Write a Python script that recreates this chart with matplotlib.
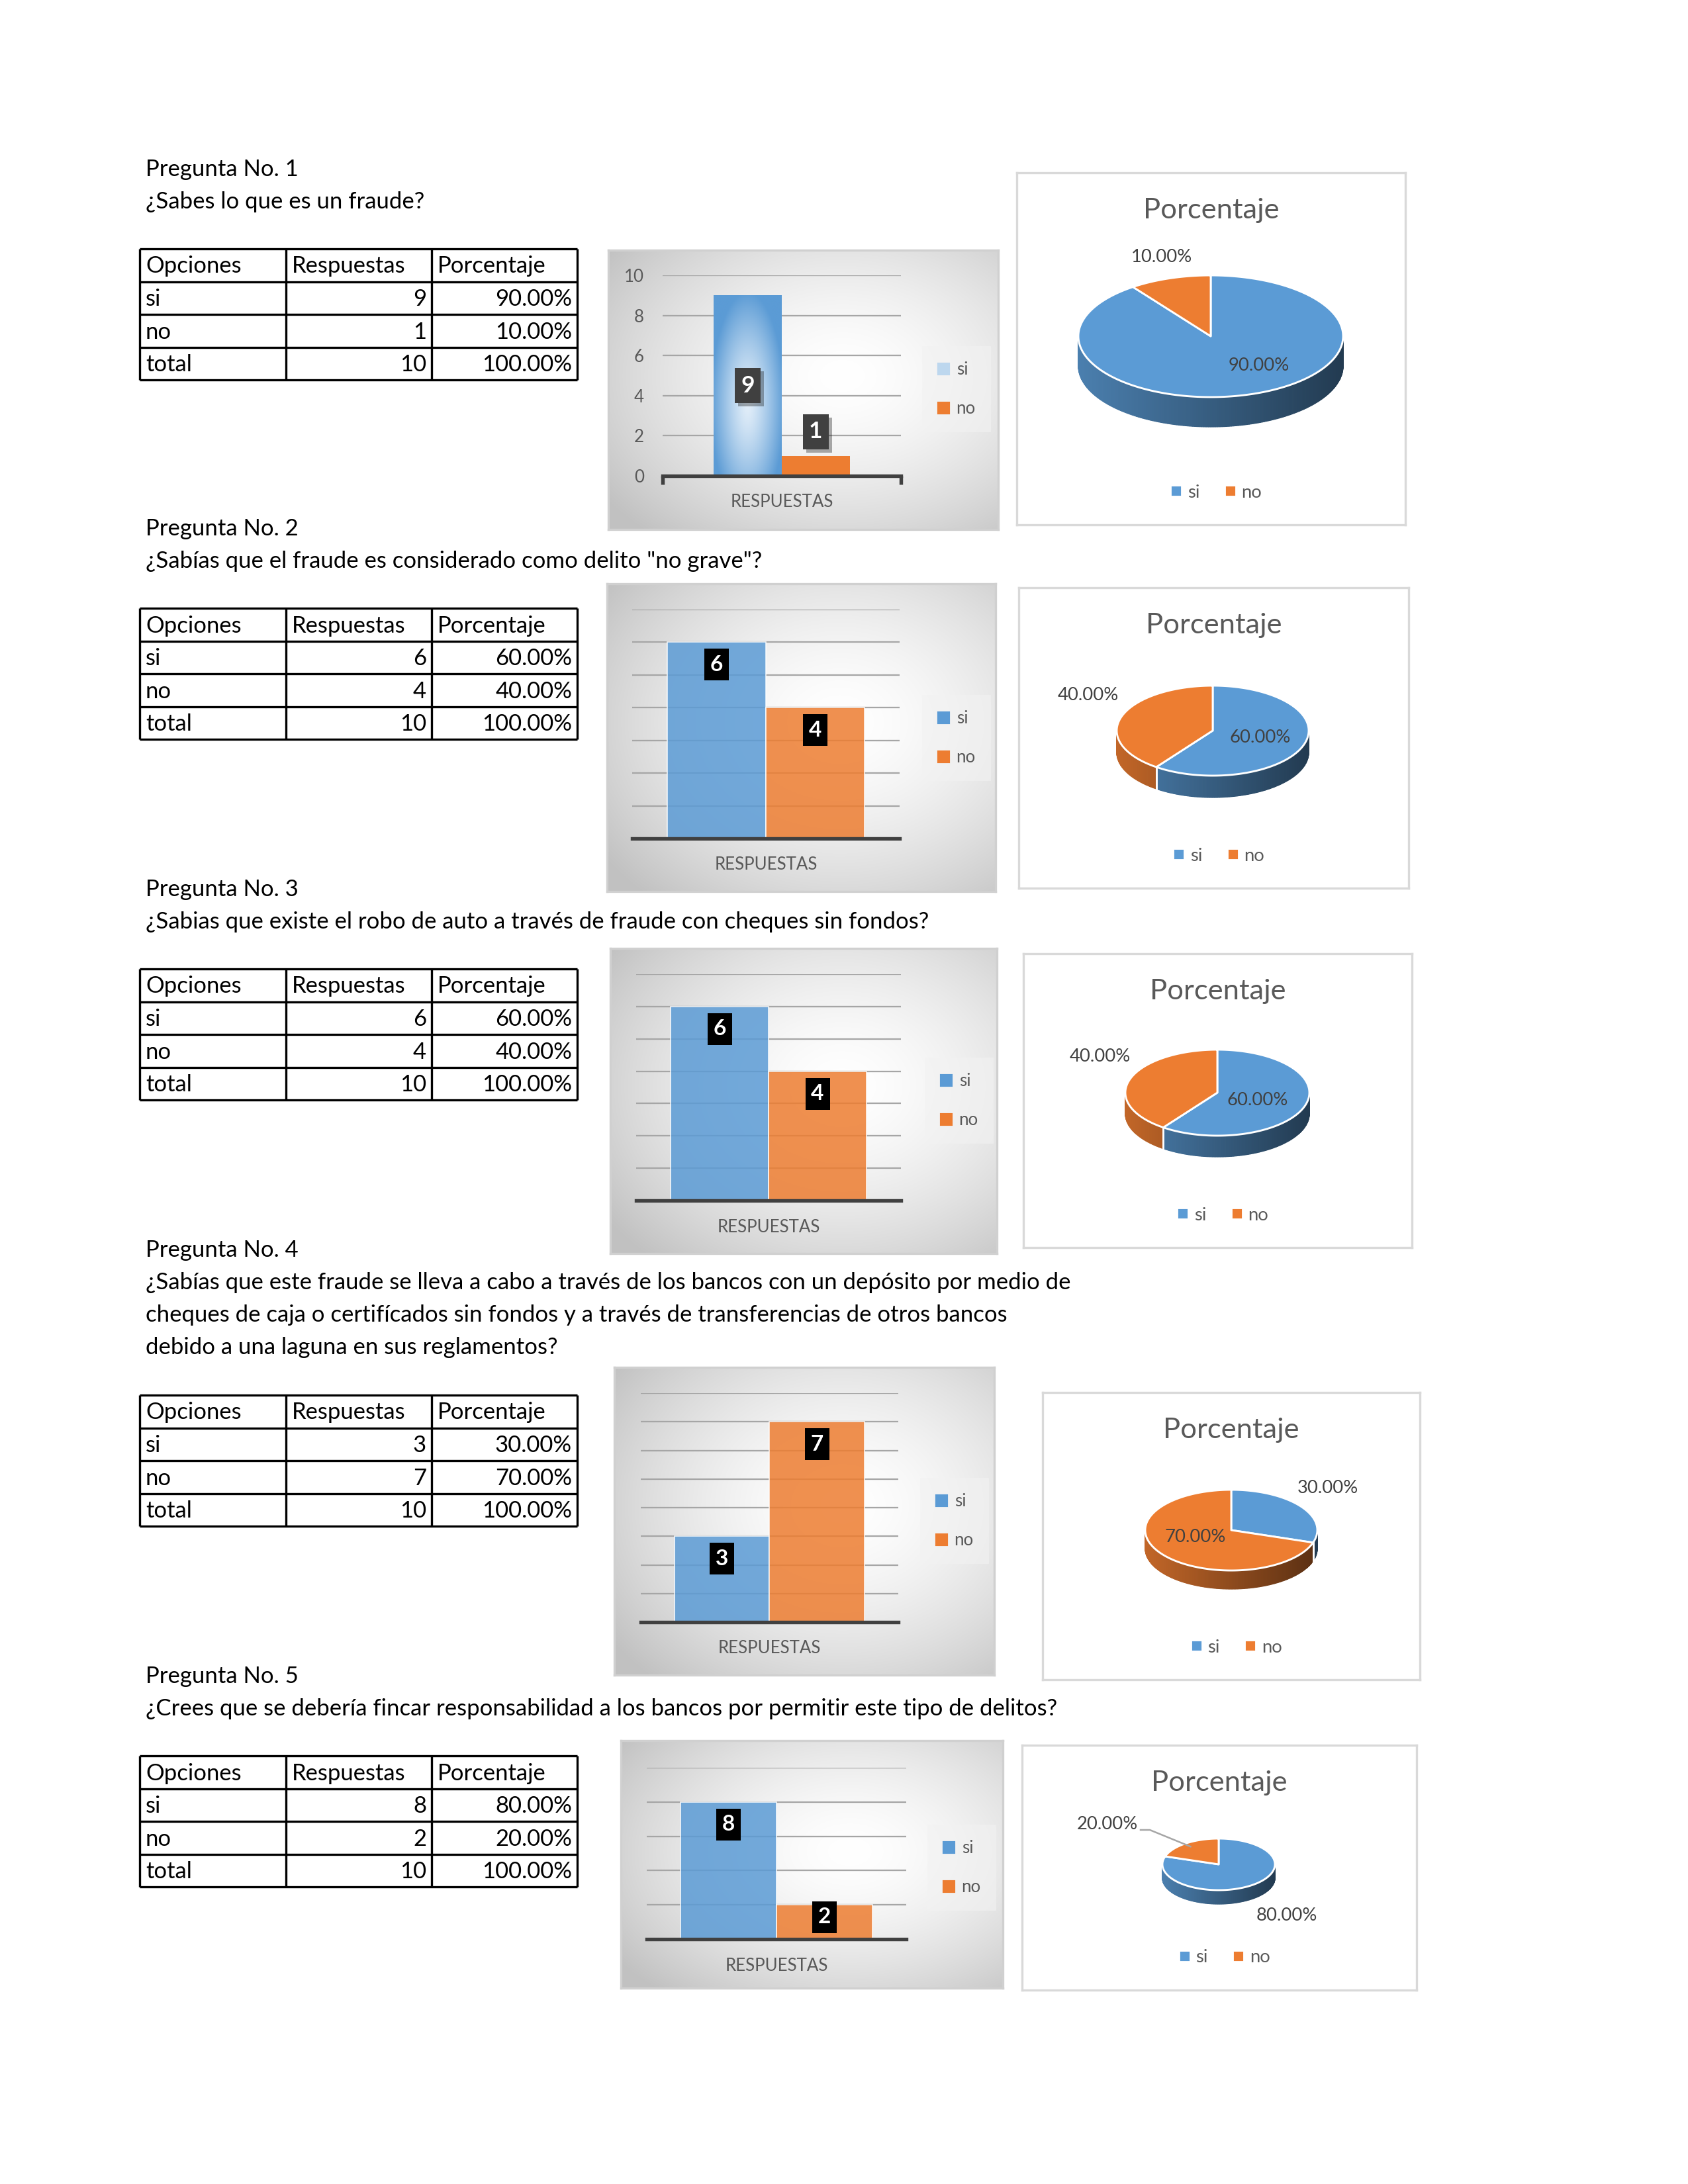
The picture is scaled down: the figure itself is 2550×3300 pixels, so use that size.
import matplotlib

matplotlib.use('Agg')
import matplotlib.pyplot as plt
import matplotlib.patheffects as pe
from matplotlib.colors import to_rgb
from matplotlib.lines import Line2D
from matplotlib.patches import Polygon, Rectangle
import numpy as np

plt.rcParams['font.family'] = ['Lato', 'DejaVu Sans']

# ---- values ----
opciones = ['si', 'no']
encabezados = ['Opciones', 'Respuestas', 'Porcentaje']
preguntas = ['Pregunta No. 1', 'Pregunta No. 2', 'Pregunta No. 3',
             'Pregunta No. 4', 'Pregunta No. 5']
enunciados = [
    ['¿Sabes lo que es un fraude?'],
    ['¿Sabías que el fraude es considerado como delito "no grave"?'],
    ['¿Sabias que existe el robo de auto a través de fraude con cheques sin fondos?'],
    ['¿Sabías que este fraude se lleva a cabo a través de los bancos con un depósito por medio de',
     'cheques de caja o certifícados sin fondos y a través de transferencias de otros bancos',
     'debido a una laguna en sus reglamentos?'],
    ['¿Crees que se debería fincar responsabilidad a los bancos por permitir este tipo de delitos?'],
]
respuestas = [[9, 1], [6, 4], [6, 4], [3, 7], [8, 2]]
porcentajes = [[90.0, 10.0], [60.0, 40.0], [60.0, 40.0], [30.0, 70.0], [80.0, 20.0]]
total_resp = [10, 10, 10, 10, 10]
total_pct = [100.0, 100.0, 100.0, 100.0, 100.0]
eje_max = [10, 7, 7, 8, 10]
eje_paso = [2, 1, 1, 1, 2]
categoria = 'RESPUESTAS'
titulo_pie = 'Porcentaje'

# ---- page layout (pixels on a 2550x3300 page) ----
W, H = 2550, 3300
TEXT_X = 220
HEAD_Y = [266, 809, 1354, 1899, 2543]
LINE_GAP = 49
TABLE_TOP = [376, 919, 1464, 2108, 2653]
TABLE_COLS = [211, 432, 652, 872]
ROW_H = 49.5
BAR_BOX = [(919, 378, 1508, 800), (917, 882, 1504, 1347), (922, 1433, 1506, 1894),
           (928, 2066, 1502, 2531), (938, 2630, 1515, 3004)]
BAR_AREA = [(1001, 1361, 416, 719), (955, 1359, 921, 1267), (961, 1361, 1472, 1814),
            (968, 1357, 2105, 2451), (977, 1369, 2671, 2930)]
BAR_W = [0.285, 0.37, 0.37, 0.37, 0.37]
BAR_LEG = [(1445, 588), (1445, 1115), (1449, 1663), (1442, 2298), (1453, 2822)]
PIE_BOX = [(1536, 261, 2123, 793), (1539, 888, 2128, 1342), (1546, 1441, 2133, 1885),
           (1575, 2104, 2145, 2538), (1544, 2637, 2140, 3007)]
PIE_GEOM = [(1829, 508, 200, 92, 45), (1832, 1104, 145, 68, 33), (1839, 1651, 139, 65, 32),
            (1860, 2312, 130, 61, 28), (1841, 2817, 85, 39, 21)]
PIE_LABEL_OFF = [[(73, 45), (-74, -119)], [(72, 11), (-188, -53)], [(61, 11), (-177, -54)],
                 [(146, -64), (-54, 10)], [(103, 78), (-168, -60)]]
PIE_LEADER = [False, False, False, False, True]

BLUE = '#5B9BD5'
ORANGE = '#ED7D31'
COLORS = [BLUE, ORANGE]
GREY_TXT = '#595959'

fig = plt.figure(figsize=(8.5, 11), dpi=300)
fig.patch.set_facecolor('white')
renderer = fig.canvas.get_renderer()


def fit_size(s, target, **kw):
    t = fig.text(0, 0, s, fontsize=10, **kw)
    w = t.get_window_extent(renderer).width
    t.remove()
    return 10 * target / w


def px_axes(x0, y0, x1, y1):
    return fig.add_axes([x0 / W, 1 - y1 / H, (x1 - x0) / W, (y1 - y0) / H])


body_size = fit_size(enunciados[3][0], 1395)
table_size = fit_size('Porcentaje', 163)
cat_size = fit_size(categoria, 155)
title_size = fit_size(titulo_pie, 205)
pct_size = fit_size('40.00%', 92)

# ---- question texts ----
for i in range(5):
    fig.text(TEXT_X / W, 1 - HEAD_Y[i] / H, preguntas[i], fontsize=body_size, va='baseline')
    for j, line in enumerate(enunciados[i]):
        fig.text(TEXT_X / W, 1 - (HEAD_Y[i] + LINE_GAP * (j + 1)) / H, line,
                 fontsize=body_size, va='baseline')

# ---- tables ----
for i in range(5):
    top = TABLE_TOP[i]
    bottom = top + 4 * ROW_H
    ax = px_axes(TABLE_COLS[0], top, TABLE_COLS[-1], bottom)
    ax.set_xlim(TABLE_COLS[0], TABLE_COLS[-1])
    ax.set_ylim(bottom, top)
    ax.axis('off')
    ys = top + ROW_H * np.arange(5)
    ax.hlines(ys, TABLE_COLS[0], TABLE_COLS[-1], color='black', lw=0.8, clip_on=False)
    ax.vlines(TABLE_COLS, top, bottom, color='black', lw=0.8, clip_on=False)
    rows = [encabezados]
    for k in range(2):
        rows.append([opciones[k], str(respuestas[i][k]), f'{porcentajes[i][k]:.2f}%'])
    rows.append(['total', str(total_resp[i]), f'{total_pct[i]:.2f}%'])
    for r, row in enumerate(rows):
        for c, s in enumerate(row):
            if r > 0 and c > 0:
                ax.text(TABLE_COLS[c + 1] - 8, ys[r + 1] - 13, s, ha='right', va='baseline',
                        fontsize=table_size)
            else:
                ax.text(TABLE_COLS[c] + 9, ys[r + 1] - 13, s, ha='left', va='baseline',
                        fontsize=table_size)

# ---- bar charts ----
gy, gx = np.mgrid[0:1:200j, 0:1:200j]
dist = np.sqrt(((gx - 0.6) / 0.75) ** 2 + ((gy - 0.45) / 0.75) ** 2)
fade = np.clip(dist, 0, 1) ** 1.6
background = 1 - fade[..., None] * (1 - np.array([0.76, 0.76, 0.76]))

for i in range(5):
    bx0, by0, bx1, by1 = BAR_BOX[i]
    bg = px_axes(bx0, by0, bx1, by1)
    bg.imshow(background, extent=(0, 1, 0, 1), aspect='auto', interpolation='bicubic')
    bg.set_xlim(0, 1)
    bg.set_ylim(0, 1)
    bg.set_xticks([])
    bg.set_yticks([])
    for sp in bg.spines.values():
        sp.set_color('#D0D0D0')
        sp.set_linewidth(0.8)

    x0, x1, yt, ya = BAR_AREA[i]
    ymax = eje_max[i]
    ppu = (ya - yt) / ymax
    pw = x1 - x0
    ax = px_axes(x0, yt, x1, ya)
    ax.patch.set_alpha(0)
    for s in ['top', 'right', 'left']:
        ax.spines[s].set_visible(False)
    ax.spines['bottom'].set_color('#404040')
    ax.spines['bottom'].set_linewidth(1.3)
    ax.set_yticks(np.arange(0, ymax + 1, eje_paso[i]))
    ax.yaxis.grid(True, color='#A6A6A6', linewidth=0.55)
    ax.set_axisbelow(True)
    if i == 0:
        ax.tick_params(axis='y', length=0, pad=6.7, labelsize=cat_size, labelcolor=GREY_TXT)
        ax.set_xticks([-0.5, 0.5], minor=True)
        ax.tick_params(axis='x', which='minor', length=3, width=1.3, color='#404040',
                       direction='out')
    else:
        ax.tick_params(axis='y', length=0, labelleft=False)
    ax.set_xticks([0])
    ax.set_xticklabels([categoria])
    ax.tick_params(axis='x', which='major', length=0, pad=9.6, labelsize=cat_size,
                   labelcolor=GREY_TXT)
    for lab in ax.get_xticklabels():
        lab.set_va('center')

    w = BAR_W[i]
    xs = [-w / 2, w / 2]
    vals = respuestas[i]
    if i == 0:
        bars = ax.bar(xs, vals, width=w, color=COLORS, zorder=2, linewidth=0)
        bars[0].set_facecolor('none')
        hy, hx = np.mgrid[1:0:120j, 0:1:60j]
        dd = np.sqrt(((hx - 0.5) / 0.55) ** 2 + ((hy - 0.4) / 0.62) ** 2)
        ff = np.clip(dd, 0, 1)[..., None] ** 1.3
        light = np.array(to_rgb('#E2EEF9'))
        dark = np.array(to_rgb(BLUE))
        im = ax.imshow(light * (1 - ff) + dark * ff, extent=(-w, 0, 0, vals[0]), aspect='auto',
                       zorder=2, interpolation='bicubic')
        im.set_clip_path(bars[0])
        leg_colors = ['#BDD7EE', ORANGE]
    else:
        ax.bar(xs, vals, width=w, color=COLORS, alpha=0.85, edgecolor='white', linewidth=0.4,
               zorder=2)
        leg_colors = COLORS
    ax.set_xlim(-0.5, 0.5)
    ax.set_ylim(0, ymax)

    # data labels
    for x, v in zip(xs, vals):
        if i == 0:
            bw, bh = 39, 53
            yc = v / 2 if v >= 0.3 * ymax else v + (bh / 2 + 10) / ppu
            fc = '#404040'
            fs = 8.5
        else:
            bw, bh = 37, 48
            off = min(34, 0.36 * v * ppu)
            yc = v - off / ppu
            fc = 'black'
            fs = 8
        rect = Rectangle((x - bw / pw / 2, yc - bh / ppu / 2), bw / pw, bh / ppu, fc=fc,
                         ec='none', zorder=4, clip_on=False)
        if i == 0:
            rect.set_path_effects([pe.withSimplePatchShadow(offset=(1.2, -1.2), alpha=0.35),
                                   pe.Normal()])
        ax.add_patch(rect)
        ax.text(x, yc, str(v), ha='center', va='center', color='white', fontweight='bold',
                fontsize=fs, zorder=5)

    handles = [Line2D([], [], ls='', marker='s', markersize=3.6, color=c) for c in leg_colors]
    lx, ly = BAR_LEG[i]
    leg = ax.legend(handles, opciones, loc='center', bbox_to_anchor=(lx / W, 1 - ly / H),
                    bbox_transform=fig.transFigure, fontsize=cat_size, handlelength=0.7,
                    handletextpad=0.4, labelspacing=1.3, borderpad=0.9, fancybox=False)
    leg.get_frame().set_facecolor('#F2F2F2')
    leg.get_frame().set_edgecolor('none')
    leg.get_frame().set_alpha(0.6)
    for t in leg.get_texts():
        t.set_color(GREY_TXT)

# ---- 3D pies ----
for i in range(5):
    x0, y0, x1, y1 = PIE_BOX[i]
    ax = px_axes(x0, y0, x1, y1)
    ax.set_xlim(x0, x1)
    ax.set_ylim(y1, y0)
    ax.set_xticks([])
    ax.set_yticks([])
    for sp in ax.spines.values():
        sp.set_color('#D9D9D9')
        sp.set_linewidth(0.8)
    ax.text((x0 + x1) / 2, y0 + 57, titulo_pie, ha='center', va='center',
            fontsize=title_size, color=GREY_TXT)

    cx, cy, rx, ry, dep = PIE_GEOM[i]
    fr = np.array(porcentajes[i]) / 100.0
    cum = np.cumsum(fr) * 360
    starts = 90 - np.concatenate([[0], cum[:-1]])
    ends = 90 - cum

    def top_pt(a, r=1.0):
        t = np.radians(a)
        return cx + r * rx * np.cos(t), cy - r * ry * np.sin(t)

    # side wall (front half), shaded left to right
    th = np.linspace(180, 360, 181)
    for a0, a1 in zip(th[:-1], th[1:]):
        am = (a0 + a1) / 2
        cw = (90 - am) % 360
        k = min(int(np.searchsorted(cum, cw, side='right')), len(fr) - 1)
        shade = 0.82 - 0.44 * (1 + np.cos(np.radians(am))) / 2
        col = np.array(to_rgb(COLORS[k])) * shade
        p0 = top_pt(a0)
        p1 = top_pt(a1)
        pts = [p0, p1, (p1[0], p1[1] + dep), (p0[0], p0[1] + dep)]
        ax.add_patch(Polygon(pts, closed=True, fc=col, ec=col, lw=0.3))
    for b in starts:
        bm = b % 360
        if 180 < bm < 360:
            px, py = top_pt(bm)
            ax.plot([px, px], [py, py + dep], color='white', lw=0.7)

    # top face
    for k in range(len(fr)):
        arc = np.linspace(ends[k], starts[k], 200)
        pts = [(cx, cy)] + [top_pt(a) for a in arc]
        ax.add_patch(Polygon(pts, closed=True, fc=COLORS[k], ec='white', lw=0.7,
                             joinstyle='round'))

    # percentage labels
    for k in range(len(fr)):
        dx, dy = PIE_LABEL_OFF[i][k]
        ax.text(cx + dx, cy + dy, f'{porcentajes[i][k]:.2f}%', ha='center', va='center',
                fontsize=pct_size, color='#404040')
    if PIE_LEADER[i]:
        k = 1
        dx, dy = PIE_LABEL_OFF[i][k]
        mx, my = top_pt((starts[k] + ends[k]) / 2, 0.85)
        sx, sy = cx + dx + 50, cy + dy + 8
        ax.plot([sx, sx + 14, mx], [sy, sy, my], color='#A6A6A6', lw=0.6)

    handles = [Line2D([], [], ls='', marker='s', markersize=2.2, color=c) for c in COLORS]
    leg = ax.legend(handles, opciones, loc='center', ncol=2,
                    bbox_to_anchor=((x0 + x1) / 2 + 8, y1 - 49), bbox_transform=ax.transData,
                    frameon=False, fontsize=pct_size, handlelength=0.6, handletextpad=0.3,
                    columnspacing=1.4)
    for t in leg.get_texts():
        t.set_color(GREY_TXT)

fig.savefig('out.png', dpi=300)
